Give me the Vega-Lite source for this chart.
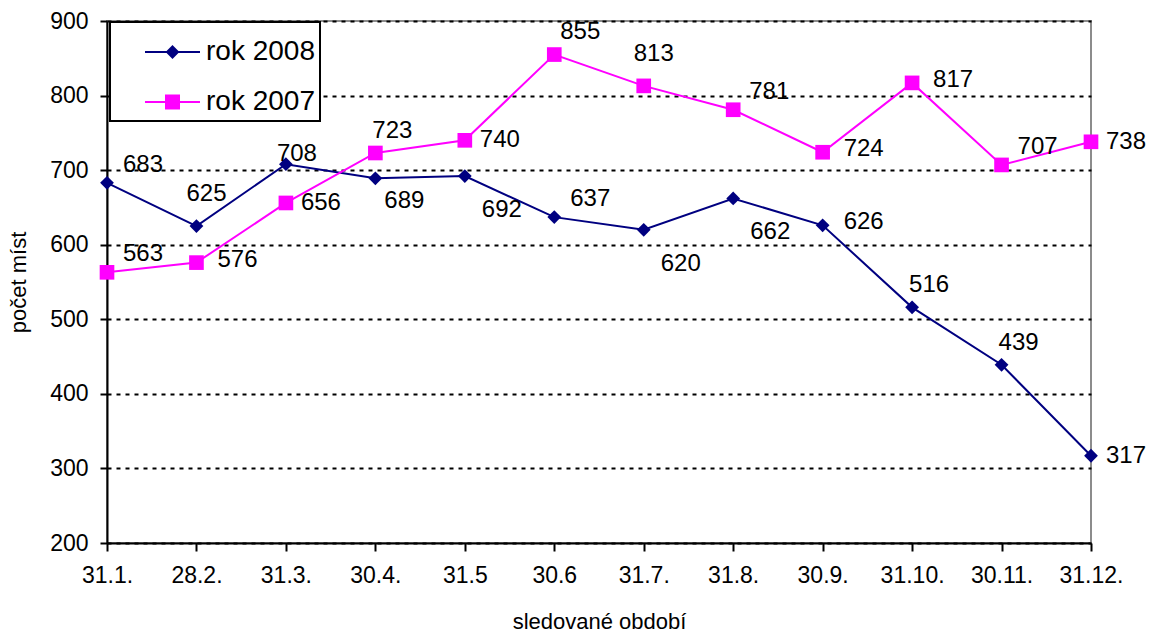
{
  "$schema": "https://vega.github.io/schema/vega-lite/v6.json",
  "width": 984,
  "height": 522,
  "autosize": {"type": "none"},
  "padding": {"left": 107, "top": 21, "right": 59, "bottom": 90},
  "background": "white",
  "config": {
    "font": "Liberation Sans",
    "view": {"stroke": "#8c8c8c", "strokeWidth": 2},
    "axis": {
      "labelFont": "Liberation Sans",
      "titleFont": "Liberation Sans",
      "labelFontSize": 23,
      "titleFontSize": 22,
      "titleFontWeight": "normal",
      "labelColor": "black",
      "titleColor": "black",
      "domainColor": "black",
      "domainWidth": 2,
      "tickColor": "black",
      "tickWidth": 2
    }
  },
  "data": {
    "values": [
      {"d": "31.1.", "rok": "rok 2008", "v": 683},
      {"d": "28.2.", "rok": "rok 2008", "v": 625},
      {"d": "31.3.", "rok": "rok 2008", "v": 708},
      {"d": "30.4.", "rok": "rok 2008", "v": 689},
      {"d": "31.5", "rok": "rok 2008", "v": 692},
      {"d": "30.6", "rok": "rok 2008", "v": 637},
      {"d": "31.7.", "rok": "rok 2008", "v": 620},
      {"d": "31.8.", "rok": "rok 2008", "v": 662},
      {"d": "30.9.", "rok": "rok 2008", "v": 626},
      {"d": "31.10.", "rok": "rok 2008", "v": 516},
      {"d": "30.11.", "rok": "rok 2008", "v": 439},
      {"d": "31.12.", "rok": "rok 2008", "v": 317},
      {"d": "31.1.", "rok": "rok 2007", "v": 563},
      {"d": "28.2.", "rok": "rok 2007", "v": 576},
      {"d": "31.3.", "rok": "rok 2007", "v": 656},
      {"d": "30.4.", "rok": "rok 2007", "v": 723},
      {"d": "31.5", "rok": "rok 2007", "v": 740},
      {"d": "30.6", "rok": "rok 2007", "v": 855},
      {"d": "31.7.", "rok": "rok 2007", "v": 813},
      {"d": "31.8.", "rok": "rok 2007", "v": 781},
      {"d": "30.9.", "rok": "rok 2007", "v": 724},
      {"d": "31.10.", "rok": "rok 2007", "v": 817},
      {"d": "30.11.", "rok": "rok 2007", "v": 707},
      {"d": "31.12.", "rok": "rok 2007", "v": 738}
    ]
  },
  "encoding": {
    "x": {
      "field": "d",
      "type": "ordinal",
      "sort": ["31.1.", "28.2.", "31.3.", "30.4.", "31.5", "30.6", "31.7.", "31.8.", "30.9.", "31.10.", "30.11.", "31.12."],
      "scale": {"type": "point", "padding": 0},
      "axis": {
        "title": "sledované období",
        "labelAngle": 0,
        "tickSize": 8,
        "labelPadding": 13,
        "titlePadding": 24,
        "grid": false
      }
    },
    "y": {
      "field": "v",
      "type": "quantitative",
      "scale": {"domain": [200, 900], "nice": false, "zero": false},
      "axis": {
        "title": "počet míst",
        "values": [200, 300, 400, 500, 600, 700, 800, 900],
        "tickSize": 7,
        "labelPadding": 12,
        "titlePadding": 19,
        "grid": true,
        "gridColor": "black",
        "gridDash": [4, 5],
        "gridWidth": 2,
        "gridOpacity": 1
      }
    }
  },
  "layer": [
    {
      "mark": {"type": "line", "strokeWidth": 2},
      "encoding": {
        "color": {
          "field": "rok",
          "type": "nominal",
          "scale": {"domain": ["rok 2008", "rok 2007"], "range": ["#000080", "#ff00ff"]},
          "legend": {
            "title": null,
            "orient": "none",
            "legendX": 3,
            "legendY": 1,
            "padding": 5,
            "strokeColor": "black",
            "fillColor": "white",
            "symbolOffset": 32.5,
            "labelOffset": 8.5,
            "labelFontSize": 28,
            "labelColor": "black",
            "labelFont": "Liberation Sans",
            "rowPadding": 11,
            "symbolSize": 2304,
            "encode": {
              "legend": {
                "update": {"strokeWidth": {"value": 2}}
              },
              "symbols": {
                "update": {
                  "shape": {"signal": "datum.value === 'rok 2008' ? 'M-1.146,0H1.146M0,-0.229L0.229,0L0,0.229L-0.229,0Z' : 'M-1.146,0H1.146M-0.271,-0.271H0.271V0.271H-0.271Z'"},
                  "size": {"value": 2304},
                  "fill": {"signal": "datum.value === 'rok 2008' ? '#000080' : '#ff00ff'"},
                  "stroke": {"signal": "datum.value === 'rok 2008' ? '#000080' : '#ff00ff'"},
                  "strokeWidth": {"value": 2},
                  "opacity": {"value": 1},
                  "fillOpacity": {"value": 1},
                  "strokeOpacity": {"value": 1}
                }
              }
            }
          }
        }
      }
    },
    {
      "transform": [{"filter": "datum.rok === 'rok 2008'"}],
      "mark": {"type": "point", "filled": true, "size": 190, "opacity": 1, "shape": "diamond"},
      "encoding": {
        "color": {"field": "rok", "type": "nominal", "legend": null}
      }
    },
    {
      "transform": [{"filter": "datum.rok === 'rok 2007'"}],
      "mark": {"type": "point", "filled": true, "size": 215, "opacity": 1, "shape": "square"},
      "encoding": {
        "color": {"field": "rok", "type": "nominal", "legend": null}
      }
    },
    {
      "transform": [{"filter": {"field": "v", "oneOf": [656, 740, 738, 317]}}],
      "mark": {"type": "text", "align": "left", "baseline": "middle", "dx": 15, "dy": 0, "fontSize": 24, "color": "black"},
      "encoding": {"text": {"field": "v", "type": "quantitative"}}
    },
    {
      "transform": [{"filter": {"field": "v", "oneOf": [724, 817, 626, 576]}}],
      "mark": {"type": "text", "align": "left", "baseline": "middle", "dx": 21, "dy": -3, "fontSize": 24, "color": "black"},
      "encoding": {"text": {"field": "v", "type": "quantitative"}}
    },
    {
      "transform": [{"filter": {"field": "v", "oneOf": [683, 637, 563, 707, 781]}}],
      "mark": {"type": "text", "align": "left", "baseline": "middle", "dx": 16, "dy": -18, "fontSize": 24, "color": "black"},
      "encoding": {"text": {"field": "v", "type": "quantitative"}}
    },
    {
      "transform": [{"filter": {"field": "v", "oneOf": [855]}}],
      "mark": {"type": "text", "align": "left", "baseline": "middle", "dx": 6, "dy": -23, "fontSize": 24, "color": "black"},
      "encoding": {"text": {"field": "v", "type": "quantitative"}}
    },
    {
      "transform": [{"filter": {"field": "v", "oneOf": [625, 813]}}],
      "mark": {"type": "text", "align": "center", "baseline": "middle", "dx": 10, "dy": -32, "fontSize": 24, "color": "black"},
      "encoding": {"text": {"field": "v", "type": "quantitative"}}
    },
    {
      "transform": [{"filter": {"field": "v", "oneOf": [723, 439, 516]}}],
      "mark": {"type": "text", "align": "center", "baseline": "middle", "dx": 17, "dy": -22, "fontSize": 24, "color": "black"},
      "encoding": {"text": {"field": "v", "type": "quantitative"}}
    },
    {
      "transform": [{"filter": {"field": "v", "oneOf": [708]}}],
      "mark": {"type": "text", "align": "center", "baseline": "middle", "dx": 11, "dy": -10, "fontSize": 24, "color": "black"},
      "encoding": {"text": {"field": "v", "type": "quantitative"}}
    },
    {
      "transform": [{"filter": {"field": "v", "oneOf": [689]}}],
      "mark": {"type": "text", "align": "left", "baseline": "middle", "dx": 9, "dy": 23, "fontSize": 24, "color": "black"},
      "encoding": {"text": {"field": "v", "type": "quantitative"}}
    },
    {
      "transform": [{"filter": {"field": "v", "oneOf": [692, 620, 662]}}],
      "mark": {"type": "text", "align": "left", "baseline": "middle", "dx": 17, "dy": 34, "fontSize": 24, "color": "black"},
      "encoding": {"text": {"field": "v", "type": "quantitative"}}
    }
  ]
}
